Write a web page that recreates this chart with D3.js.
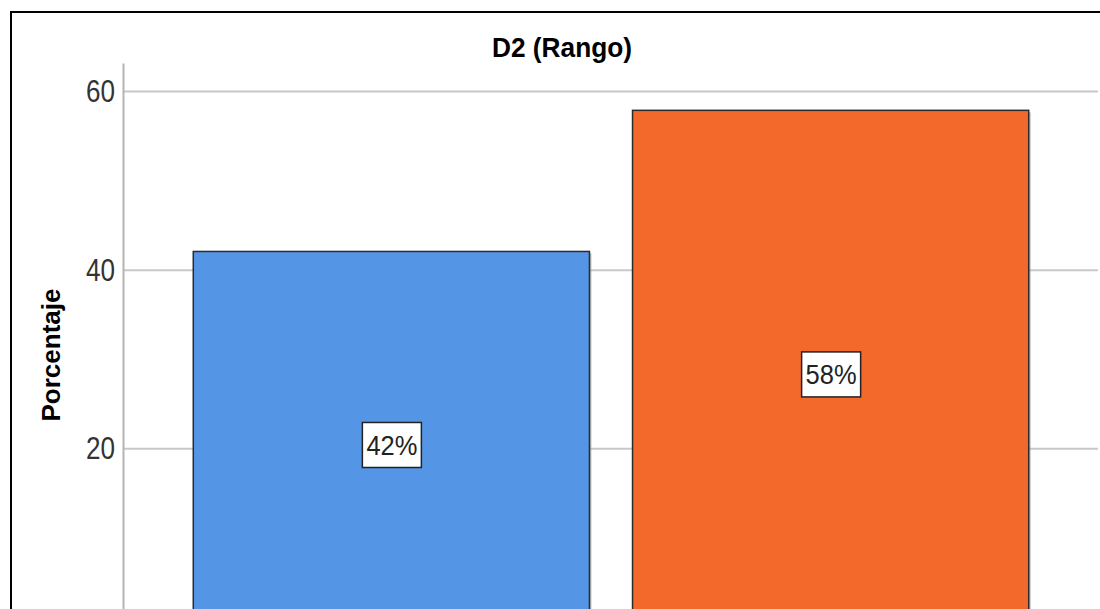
<!DOCTYPE html>
<html>
<head>
<meta charset="utf-8">
<script src="https://cdn.jsdelivr.net/npm/d3@7"></script>
<style>
  body { margin: 0; background: #fff; }
  .tick-label { font-family: "Liberation Sans", Arial, sans-serif; font-size: 31px; fill: #333; }
  .bar-label { font-family: "Liberation Sans", Arial, sans-serif; font-size: 28px; fill: #222; }
  .title { font-family: "Liberation Sans", Arial, sans-serif; font-weight: bold; font-size: 28px; fill: #000; }
  .axis-label { font-family: "Liberation Sans", Arial, sans-serif; font-weight: bold; font-size: 26px; fill: #000; }
</style>
</head>
<body>
<div id="chart"></div>
<script>
// data
let categories = ["Nivel 1", "Nivel 2"];
let percentages = [42.1, 57.9];
let barLabels = ["42%", "58%"];
let yTicks = [20, 40, 60];
let colors = ["#5595E5", "#F3692B"];

let svgWidth = 1100;
let svgHeight = 609;

let svg = d3.select("#chart").append("svg")
  .attr("width", svgWidth)
  .attr("height", svgHeight);

// outer frame (only top and left edges are inside the picture)
svg.append("path")
  .attr("d", "M11," + svgHeight + "V12H" + svgWidth)
  .attr("fill", "none")
  .attr("stroke", "#000")
  .attr("stroke-width", 2);

let xScale = d3.scaleBand()
  .domain(categories)
  .range([123, 1099])
  .paddingInner(0.098)
  .paddingOuter(0.16);

let yScale = d3.scaleLinear()
  .domain([0, 63.2])
  .range([627.5, 63]);

// gridlines
svg.append("g").selectAll("line")
  .data(yTicks)
  .enter()
  .append("line")
  .attr("x1", 124)
  .attr("x2", 1098)
  .attr("y1", d => yScale(d))
  .attr("y2", d => yScale(d))
  .attr("stroke", "#c8c8c8")
  .attr("stroke-width", 2);

// y axis
let yAxis = d3.axisLeft(yScale)
  .tickValues(yTicks)
  .tickSize(0)
  .tickPadding(8);

let yAxisElement = svg.append("g")
  .attr("transform", "translate(" + 123 + "," + 0 + ")")
  .call(yAxis);

yAxisElement.attr("font-size", null).attr("font-family", null);

yAxisElement.select(".domain")
  .attr("stroke", "#b4b4b4")
  .attr("stroke-width", 2);

// the original digits are condensed, squeeze them to the measured width
yAxisElement.selectAll("text")
  .attr("class", "tick-label")
  .attr("fill", null)
  .attr("textLength", 29)
  .attr("lengthAdjust", "spacingAndGlyphs");

// bars
let bars = svg.append("g");

bars.selectAll(".shadow")
  .data(percentages)
  .enter()
  .append("rect")
  .attr("class", "shadow")
  .attr("x", (d, i) => xScale(categories[i]) + 2)
  .attr("y", d => yScale(d) + 2)
  .attr("width", xScale.bandwidth())
  .attr("height", d => yScale(0) - yScale(d))
  .attr("fill", "#999")
  .attr("opacity", 0.6);

bars.selectAll(".bar")
  .data(percentages)
  .enter()
  .append("rect")
  .attr("class", "bar")
  .attr("x", (d, i) => xScale(categories[i]))
  .attr("y", d => yScale(d))
  .attr("width", xScale.bandwidth())
  .attr("height", d => yScale(0) - yScale(d))
  .attr("fill", (d, i) => colors[i])
  .attr("stroke", "#2b2b2b")
  .attr("stroke-width", 1.5);

// value labels in boxes
let labelGroups = svg.append("g").selectAll("g")
  .data(percentages)
  .enter()
  .append("g")
  .attr("transform", (d, i) => "translate(" + (xScale(categories[i]) + xScale.bandwidth() / 2) + "," + (yScale(d / 2) + 5) + ")");

labelGroups.append("rect")
  .attr("x", -29)
  .attr("y", -22)
  .attr("width", 59)
  .attr("height", 45)
  .attr("fill", "#fff")
  .attr("stroke", "#222")
  .attr("stroke-width", 1.5);

labelGroups.append("text")
  .attr("class", "bar-label")
  .attr("x", -25)
  .attr("dy", "0.36em")
  .attr("textLength", 51)
  .attr("lengthAdjust", "spacingAndGlyphs")
  .text((d, i) => barLabels[i]);

// title
svg.append("text")
  .attr("class", "title")
  .attr("x", 492)
  .attr("y", 57)
  .attr("textLength", 140)
  .attr("lengthAdjust", "spacingAndGlyphs")
  .text("D2 (Rango)");

// y axis title
svg.append("text")
  .attr("class", "axis-label")
  .attr("transform", "translate(" + 60 + "," + 355 + ") rotate(-90)")
  .attr("text-anchor", "middle")
  .text("Porcentaje");
</script>
</body>
</html>
